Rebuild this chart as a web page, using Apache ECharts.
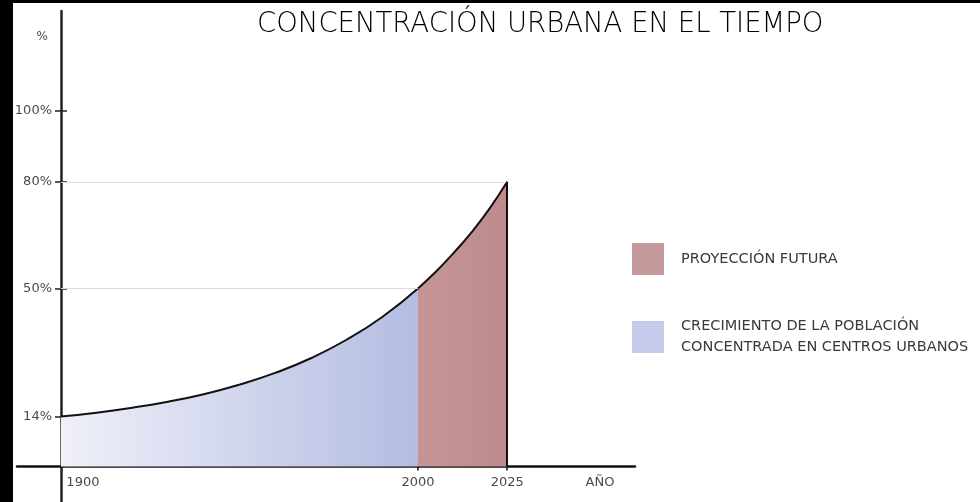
<!DOCTYPE html>
<html>
<head>
<meta charset="utf-8">
<script src="https://cdn.jsdelivr.net/npm/echarts@6/dist/echarts.min.js"></script>
<style>
html,body{margin:0;padding:0;background:#fff;}
#chart{width:980px;height:502px;}
</style>
</head>
<body>
<div id="chart"></div>
<script>
// ---- data ----
const titleText = 'CONCENTRACIÓN URBANA EN EL TIEMPO';
const histYears = [1900, 1910, 1920, 1930, 1940, 1950, 1960, 1970, 1980, 1990, 2000];
const histPct   = [14, 15.1, 16.5, 18.2, 20.3, 23, 26.3, 30.4, 35.6, 42, 50];
const projYears = [2000, 2005, 2010, 2015, 2020, 2025];
const projPct   = [50, 54.7, 60, 65.8, 72.4, 80];
const histName = 'CRECIMIENTO DE LA POBLACIÓN\nCONCENTRADA EN CENTROS URBANOS';
const projName = 'PROYECCIÓN FUTURA';
const xTickYears = [2000, 2025];
const xLabelYears = [1900, 2000, 2025];
const xAxisName = 'AÑO';
const xAxisNameYear = 2051;
const yTicks = [14, 50, 80, 100];
const yAxisName = '%';
const guideLines = [ {pct: 80, toYear: 2025}, {pct: 50, toYear: 2000} ];

// ---- build ----
const histData = histYears.map((y, i) => [y, histPct[i]]);
const projData = projYears.map((y, i) => [y, projPct[i]]);
const xMin = 1887.7, xMax = 2060.8;
const yMin = -10, yMax = 128;
const labelFont = 'DejaVu Sans';
const labelColor = '#4a4a4a';
const yOffset = -44;     // y axis sits at year 1900 inside the grid
const xOffset = -35.6;   // x axis sits at 0 % inside the grid

const chart = echarts.init(document.getElementById('chart'), null, {renderer: 'canvas'});
const option = {
  animation: false,
  backgroundColor: '#fff',
  graphic: [
    {type: 'rect', left: 0, top: 0, z: 100, shape: {width: 13, height: 502}, style: {fill: '#000'}},
    {type: 'rect', left: 0, top: 0, z: 100, shape: {width: 980, height: 3}, style: {fill: '#000'}}
  ],
  title: {
    text: titleText, left: 252, top: 6,
    textStyle: {fontFamily: labelFont, fontWeight: 200, fontSize: 27.5, color: '#000'}
  },
  legend: {
    orient: 'vertical', left: 632, top: 243, padding: 0,
    itemWidth: 32, itemHeight: 32, itemGap: 41, icon: 'rect',
    selectedMode: false,
    textStyle: {fontFamily: labelFont, fontSize: 14.5, color: '#3a3a3a', lineHeight: 21, padding: [0, 0, 0, 12]},
    data: [
      {name: projName, itemStyle: {color: '#c49a9b'}},
      {name: histName, itemStyle: {color: '#c6c9ea'}}
    ]
  },
  grid: {left: 17, right: 345, top: 11, bottom: 0, containLabel: false, outerBoundsMode: 'none'},
  xAxis: [
    {
      type: 'value', min: xMin, max: xMax, position: 'bottom', offset: xOffset,
      axisLine: {onZero: false, lineStyle: {color: '#111', width: 2.5}},
      splitLine: {show: false},
      axisTick: {show: true, customValues: xTickYears, length: 4, lineStyle: {color: '#111', width: 1.5}},
      axisLabel: {
        customValues: xLabelYears.concat([xAxisNameYear]),
        margin: 10,
        color: labelColor, fontFamily: labelFont, fontSize: 13,
        formatter: v => {
          if (Math.abs(v - xAxisNameYear) < 0.01) return xAxisName;
          if (Math.abs(v - xLabelYears[0]) < 0.01) return '{first|' + xLabelYears[0] + '}';
          return String(Math.round(v));
        },
        rich: {first: {padding: [0, 0, 0, 44], color: labelColor, fontFamily: labelFont, fontSize: 13}}
      }
    },
    {
      type: 'value', min: xMin, max: xMax, position: 'bottom', offset: xOffset,
      axisLine: {show: false, onZero: false},
      splitLine: {show: false},
      axisTick: {show: true, inside: true, customValues: xTickYears, length: 4, lineStyle: {color: '#111', width: 1.5}},
      axisLabel: {show: false}
    }
  ],
  yAxis: [
    {
      type: 'value', min: yMin, max: yMax, position: 'left', offset: yOffset,
      name: yAxisName, nameLocation: 'end', nameGap: -26,
      nameTextStyle: {color: labelColor, fontFamily: labelFont, fontSize: 12, align: 'right', verticalAlign: 'middle', padding: [0, 13, 0, 0]},
      axisLine: {onZero: false, lineStyle: {color: '#222', width: 2.5}},
      splitLine: {show: false},
      axisTick: {show: true, customValues: yTicks, length: 6, lineStyle: {color: '#222', width: 1.5}},
      axisLabel: {customValues: yTicks, margin: 9, color: labelColor, fontFamily: labelFont, fontSize: 13, formatter: v => v + '%'}
    },
    {
      type: 'value', min: yMin, max: yMax, position: 'left', offset: yOffset,
      axisLine: {show: false, onZero: false},
      splitLine: {show: false},
      axisTick: {show: true, inside: true, customValues: yTicks, length: 6, lineStyle: {color: '#222', width: 1.5}},
      axisLabel: {show: false}
    }
  ],
  series: [
    {
      name: histName, type: 'line', xAxisIndex: 0, yAxisIndex: 0,
      data: histData, smooth: 0.5, showSymbol: false, symbol: 'none',
      lineStyle: {color: '#111', width: 2},
      itemStyle: {color: '#c6c9ea'},
      areaStyle: {
        opacity: 1, origin: 'auto',
        color: new echarts.graphic.LinearGradient(0, 0, 1, 0, [
          {offset: 0, color: '#eff0f9'},
          {offset: 1, color: '#b4bce1'}
        ])
      },
      markLine: {
        silent: true, symbol: 'none', label: {show: false},
        lineStyle: {color: '#dcdcdc', width: 1.2, type: 'solid'},
        data: guideLines.map(g => [{coord: [xLabelYears[0], g.pct]}, {coord: [g.toYear, g.pct]}])
      }
    },
    {
      name: projName, type: 'line', xAxisIndex: 0, yAxisIndex: 0,
      data: projData, smooth: 0.5, showSymbol: false, symbol: 'none',
      lineStyle: {color: '#111', width: 2},
      itemStyle: {color: '#c49a9b'},
      areaStyle: {
        opacity: 1, origin: 'auto',
        color: new echarts.graphic.LinearGradient(0, 0, 1, 0, [
          {offset: 0, color: '#c59595'},
          {offset: 1, color: '#bd8b8c'}
        ])
      },
      markLine: {
        silent: true, symbol: 'none', label: {show: false},
        lineStyle: {color: '#111', width: 2, type: 'solid'},
        data: [[{coord: [2025, 0]}, {coord: [2025, projPct[projPct.length - 1]]}]]
      }
    }
  ]
};
chart.setOption(option);
</script>
</body>
</html>
